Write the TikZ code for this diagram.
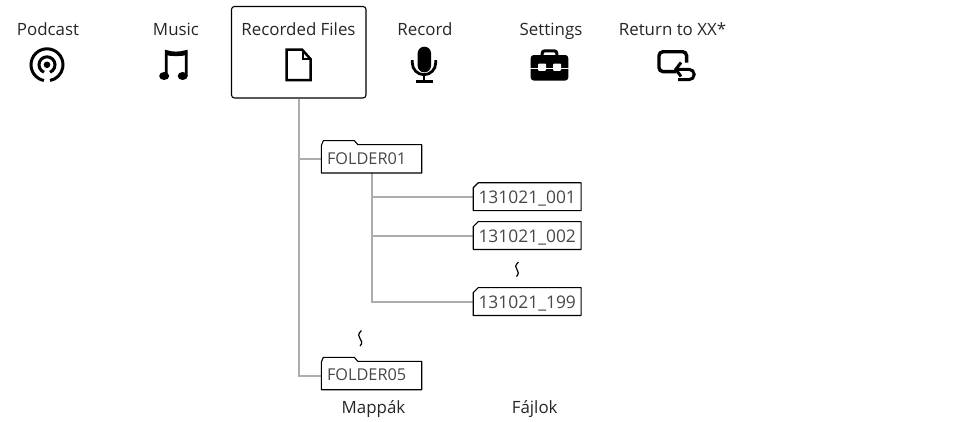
\documentclass[tikz,border=0pt]{standalone}
\usepackage{fontspec}
\setmainfont{Open Sans}
\newcommand{\labelsize}{\fontsize{16.9}{20}\selectfont}
\tikzset{
 x=1pt,y=-1pt,
 conn/.style={draw=black!32,line width=2pt},
 outline/.style={draw=black,line width=1.1pt,line join=round},
 lab/.style={font=\labelsize,text=black!85,inner sep=0pt,anchor=base},
 folder/.style={minimum width=100pt,minimum height=28pt,inner sep=0pt,font=\fontsize{16.3}{20}\selectfont,text=black!72,text width=89pt,align=left,text height=10.4pt,text depth=0pt},
 filebox/.style={minimum width=107.5pt,minimum height=27.5pt,inner sep=0pt,font=\fontsize{17.4}{20}\selectfont,text=black!72,text height=14pt,text depth=0pt},
}
\newcommand{\folderoutline}[1]{%
 \draw[outline] (#1.south west) -- ([yshift=-1pt]#1.north west) -- ++(2,-5) -- ++(31,0) -- ++(3.5,4) -- (#1.north east) -- (#1.south east) -- cycle;}
\newcommand{\fileoutline}[1]{%
 \draw[outline] (#1.south west) -- ([yshift=-5pt]#1.north west) -- ([xshift=5pt]#1.north west) -- (#1.north east) -- (#1.south east) -- cycle;}
\begin{document}
\begin{tikzpicture}
\useasboundingbox (0,0) rectangle (974,421);
\node[draw=black,line width=1.1pt,rounded corners=3pt,minimum width=134.5pt,minimum height=91.5pt,inner sep=0pt] (root) at (298.75,52.25) {};
\node[folder] (f1) at (371.5,158.8) {FOLDER01};
\node[folder] (f5) at (371.5,375.5) {FOLDER05};
\node[filebox] (a) at (527.2,196.7) {131021\_001};
\node[filebox] (b) at (527.2,235.5) {131021\_002};
\node[filebox] (c) at (527.2,301.5) {131021\_199};
\draw[conn] (root.south) |- (f5.west);
\draw[conn] (root.south |- f1.west) -- (f1.west);
\draw[conn] (f1.south) |- (c.west);
\draw[conn] (f1.south |- a.west) -- (a.west);
\draw[conn] (f1.south |- b.west) -- (b.west);
\folderoutline{f1}\folderoutline{f5}
\fileoutline{a}\fileoutline{b}\fileoutline{c}
\node[lab] (t1) at (48,35) {Podcast};
\node[lab] (t2) at (176,35) {Music};
\node[lab] (t3) at (298.5,35) {Recorded Files};
\node[lab] (t4) at (425,35) {Record};
\node[lab] (t5) at (551,35) {Settings};
\node[lab] (t6) at (672.5,35) {Return to XX*};
\node[lab] (t7) at (373.5,413) {Mappák};
\node[lab] (t8) at (534.7,413) {Fájlok};
% podcast
\draw[line width=3pt] (47,64.8) +(101:16) arc[start angle=-259,end angle=79,radius=16];
\draw[line width=3pt] (47,64.8) +(112:8) arc[start angle=-248,end angle=68,radius=8];
\fill (47,64.8) circle (3.3);
% note
\draw[line width=2.8pt] (166.3,76) -- (166.3,51.5) .. controls (172,53.5) and (180,53.5) .. (186.2,51.5) -- (186.2,76);
\fill (165.3,52) .. controls (172,55) and (180,55) .. (187.2,52) -- (187.2,55) .. controls (180,56.5) and (172,56.5) .. (165.3,55) -- cycle;
\fill (164.2,76) ellipse (5 and 4) (182.7,76) ellipse (5 and 4);
% file
\draw[line width=2.5pt,line join=miter] (286.5,80) -- (286.5,49.5) -- (302,49.5) -- (310.5,59) -- (310.5,80) -- cycle;
\draw[line width=1.6pt] (303,50) -- (303,59) -- (310.5,59);
% mic
\fill[rounded corners=6.5pt] (417.7,46.7) rectangle (431,72.3);
\draw[line width=2.8pt] (412.3,60) -- (412.3,63) arc[start angle=180,end angle=0,radius=11.7] -- (435.7,60);
\draw[line width=2.6pt] (424,74.7) -- (424,81.7) (415.7,81.7) -- (432.7,81.7);
% case
\fill[rounded corners=3pt] (530.7,55) rectangle (568.3,80.5);
\draw[line width=3pt,rounded corners=2.5pt] (542.2,56) -- (542.2,50.8) -- (556.8,50.8) -- (556.8,56);
\draw[white,line width=1.3pt] (530,68.5) -- (569,68.5);
\fill[white,rounded corners=1pt] (538,63.5) rectangle (546,70.8);
\fill[white,rounded corners=1pt] (553,63.5) rectangle (561,70.8);
% return
\draw[line width=3.4pt,rounded corners=4pt] (676,71.6) -- (659,71.6) -- (659,51.7) -- (686.6,51.7) -- (686.6,62.5);
\draw[line width=3pt] (677,69.3) -- (689,69.3) arc[start angle=-90,end angle=90,radius=5.2] -- (678,79.7);
\draw[line width=3pt] (681,62.5) -- (675.8,69.3) -- (681,76.5);
% squiggles
\draw[line width=1.2pt] (518.5,262) .. controls (514.5,265.5) and (515.5,267.5) .. (517,269.5) .. controls (518.5,271.5) and (519,274) .. (516.5,276.5);
\draw[line width=1.2pt] (361.5,330.5) .. controls (357.5,334) and (358.5,336.5) .. (360,338.5) .. controls (361.5,340.5) and (363,343) .. (360,346);
\end{tikzpicture}
\end{document}
